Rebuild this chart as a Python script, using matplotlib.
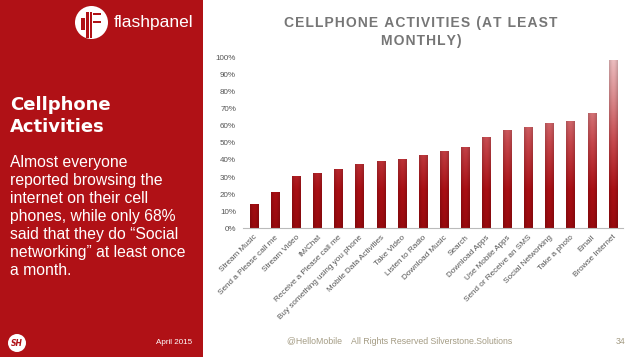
import numpy as np
import matplotlib.pyplot as plt
from matplotlib.colors import LinearSegmentedColormap
from matplotlib.patches import Circle, Rectangle

activities = [
    "Stream Music", "Send a Please call me", "Stream Video", "IM/Chat",
    "Receive a Please call me", "Buy something using you phone",
    "Mobile Data Activities", "Take Video", "Listen to Radio",
    "Download Music", "Search", "Download Apps", "Use Mobile Apps",
    "Send or Receive an SMS", "Social Networking", "Take a photo",
    "Email", "Browse Internet",
]
share = [14, 21, 30, 32, 34.5, 37, 39, 40, 42.5, 45, 47, 53, 57, 58.5, 61, 62, 67, 98]
yticks = list(range(0, 101, 10))

RED = "#B01116"
HAIR = "\u200a"

fig = plt.figure(figsize=(6.38, 3.59), dpi=100)
fig.patch.set_facecolor("white")

# left red panel
fig.patches.append(Rectangle((0, 0.006), 203 / 638, 0.994, transform=fig.transFigure,
                             facecolor=RED, edgecolor="none", zorder=-10))

# flashpanel logo (rough)
logo = fig.add_axes([75 / 638, 1 - 39 / 359, 33 / 638, 33 / 359])
logo.set_xlim(-1, 1)
logo.set_ylim(-1, 1)
logo.set_aspect("equal")
logo.axis("off")
logo.add_patch(Circle((0, 0), 1, facecolor="white", edgecolor="none"))
for x0, y0, w, h in [(-0.62, -0.45, 0.2, 0.75), (-0.32, -0.95, 0.14, 1.6),
                     (-0.1, -0.95, 0.14, 1.6), (0.1, -0.05, 0.5, 0.14),
                     (0.1, 0.45, 0.5, 0.14)]:
    logo.add_patch(Rectangle((x0, y0), w, h, facecolor=RED, edgecolor="none"))
fig.text(114 / 638, 1 - 22 / 359, "flashpanel", color="white", fontsize=12.5,
         family="Liberation Sans", va="center", ha="left")

fig.text(10 / 638, 1 - 116 / 359, "Cellphone\nActivities", color="white",
         fontsize=13, fontweight="bold", family="DejaVu Sans",
         va="center", ha="left", linespacing=1.25)
body = ("Almost everyone\nreported browsing the\ninternet on their cell\n"
        "phones, while only 68%\nsaid that they do \u201cSocial\n"
        "networking\u201d at least once\na month.")
fig.text(10 / 638, 1 - 155 / 359, body, color="white", fontsize=11.3,
         family="Liberation Sans", va="top", ha="left", linespacing=1.25)

# SH badge + date
sh = fig.add_axes([8 / 638, 1 - 352 / 359, 18 / 638, 18 / 359])
sh.set_xlim(-1, 1)
sh.set_ylim(-1, 1)
sh.set_aspect("equal")
sh.axis("off")
sh.add_patch(Circle((0, 0), 1, facecolor="white", edgecolor="none"))
sh.text(0, 0, "SH", color=RED, fontsize=5.5, fontweight="bold", style="italic",
        ha="center", va="center")
fig.text(192 / 638, 1 - 343 / 359, "April 2015", color="white", fontsize=5.8,
         family="Liberation Sans", ha="right", va="center")

# footer
fig.text(287 / 638, 1 - 342 / 359,
         "@HelloMobile    All Rights Reserved Silverstone.Solutions",
         color="#A49C84", fontsize=6.3, family="Liberation Sans",
         ha="left", va="center")
fig.text(625 / 638, 1 - 342 / 359, "34", color="#A49C84", fontsize=6.3,
         family="Liberation Sans", ha="right", va="center")

# chart title, letter-spaced
title_lines = ["CELLPHONE ACTIVITIES (AT LEAST", "MONTHLY)"]
title = "\n".join(HAIR.join(line) for line in title_lines)
fig.text(421 / 638, 1 - 32 / 359, title, color="#767676", fontsize=10,
         fontweight="bold", family=["Liberation Sans", "DejaVu Sans"],
         ha="center", va="center", linespacing=1.3)

ax = fig.add_axes([243 / 638, 130.7 / 359, 380 / 638, 171 / 359])
ax.set_facecolor("none")
x = np.arange(len(activities))
bars = ax.bar(x, share, width=0.38, facecolor="none", edgecolor="none")

cmap = LinearSegmentedColormap.from_list(
    "barfade", [(0.0, "#980A0E"), (0.22, "#A90F14"), (0.5, "#C6474C"),
                (0.78, "#DC8E91"), (1.0, "#EDC0C2")])
ny, nx = 200, 12
shade = 0.82 + 0.18 * np.sin(np.linspace(0.15, np.pi - 0.15, nx))
for b in bars:
    h = b.get_height()
    yy = np.linspace(0, h, ny) / 100.0
    col = cmap(yy)[:, :3]
    img = col[:, None, :] * shade[None, :, None]
    ax.imshow(img, extent=[b.get_x(), b.get_x() + b.get_width(), 0, h],
              origin="lower", aspect="auto", interpolation="bilinear", zorder=2)

ax.set_xlim(-0.52, 17.49)
ax.set_ylim(0, 100)
ax.set_yticks(yticks)
ax.set_yticklabels([f"{v}%" for v in yticks], color="#555555", fontsize=5.8,
                   family="Liberation Sans")
ax.set_xticks(x)
ax.set_xticklabels(activities, rotation=45, ha="right", rotation_mode="anchor",
                   color="#555555", fontsize=5.9, family="Liberation Sans")
ax.tick_params(length=0, pad=5)
ax.tick_params(axis="x", pad=4)
for s in ["top", "right", "left"]:
    ax.spines[s].set_visible(False)
ax.spines["bottom"].set_color("#BBBBBB")
ax.spines["bottom"].set_linewidth(0.8)

fig.savefig("out.png", dpi=100)
